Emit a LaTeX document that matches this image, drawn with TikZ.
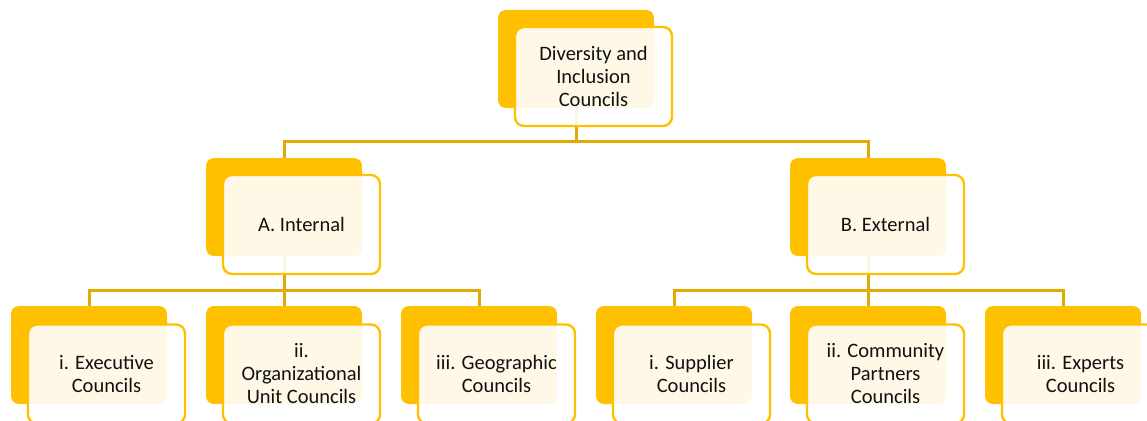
\documentclass[tikz,border=0pt]{standalone}
\usepackage{fontspec}
\setmainfont{Carlito}
\usepackage{tikz}
\usetikzlibrary{calc}

\definecolor{gold}{HTML}{FFC000}
\definecolor{linkgold}{HTML}{E2AA00}
\definecolor{ink}{HTML}{111111}

\tikzset{
  backbox/.style={rectangle, rounded corners=8pt, fill=gold,
    minimum width=156pt, minimum height=98pt, inner sep=0pt},
  frontbox/.style={rectangle, rounded corners=9pt, draw=gold, line width=2.4pt,
    fill=white, fill opacity=0.9, text opacity=1, text=ink,
    minimum width=157pt, minimum height=99pt, inner sep=0pt,
    align=center, font=\fontsize{20.5}{23}\selectfont},
  link/.style={draw=linkgold, line width=3pt}
}

\begin{document}
\begin{tikzpicture}[x=1pt, y={(0pt,-1pt)}]
  \useasboundingbox (0,0) rectangle (1147,420);

  % back plates
  \node[backbox] (D)  at (576,59)   {};
  \node[backbox] (A)  at (284,207)  {};
  \node[backbox] (B)  at (868,207)  {};
  \node[backbox] (A1) at (89,355)   {};
  \node[backbox] (A2) at (284,355)  {};
  \node[backbox] (A3) at (479,355)  {};
  \node[backbox] (B1) at (674,355)  {};
  \node[backbox] (B2) at (868,355)  {};
  \node[backbox] (B3) at (1063,355) {};

  % connectors
  \draw[link] (D.south) -- ++(0,33) -| (A.north);
  \draw[link] (D.south) ++(0,33) -| (B.north);
  \draw[link] (A.south) -- ++(0,34) -| (A1.north);
  \draw[link] (A.south) ++(0,34) -- (A2.north);
  \draw[link] (A.south) ++(0,34) -| (A3.north);
  \draw[link] (B.south) -- ++(0,34) -| (B1.north);
  \draw[link] (B.south) ++(0,34) -- (B2.north);
  \draw[link] (B.south) ++(0,34) -| (B3.north);

  % front cards
  \node[frontbox] (Df)  at (593.5,76.5)  {Diversity and\\Inclusion\\Councils};
  \node[frontbox] (Af)  at (301.5,224.5) {A. Internal};
  \node[frontbox] (Bf)  at (885.5,224.5) {B. External};
  \node[frontbox] (A1f) at (106.5,374) {i. Executive\\Councils};
  \node[frontbox] (A2f) at (301.5,374) {ii.\\Organizational\\Unit Councils};
  \node[frontbox] (A3f) at (496.5,374) {iii. Geographic\\Councils};
  \node[frontbox] (B1f) at (691.5,374) {i. Supplier\\Councils};
  \node[frontbox] (B2f) at (885.5,374) {ii. Community\\Partners\\Councils};
  \node[frontbox] (B3f) at (1080.5,374) {iii. Experts\\Councils};
\end{tikzpicture}
\end{document}
